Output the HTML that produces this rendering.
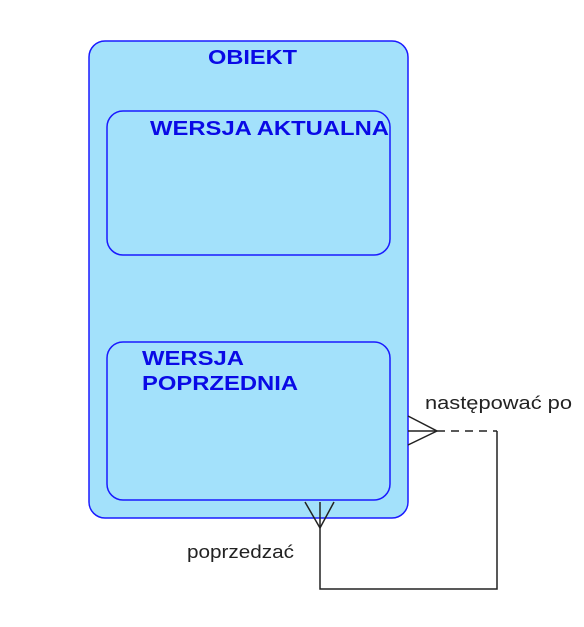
<!DOCTYPE html>
<html><head><meta charset="utf-8"><style>
body{margin:0;background:#fff;width:584px;height:622px;overflow:hidden}
</style></head><body>
<svg width="584" height="622" xmlns="http://www.w3.org/2000/svg" font-family="Liberation Sans, sans-serif">
<rect x="89" y="41" width="319" height="477" rx="16" fill="#a3e1fb" stroke="#1a1aff" stroke-width="1.5"/>
<text x="208" y="64" textLength="89" lengthAdjust="spacingAndGlyphs" font-weight="bold" font-size="20" fill="#0a0ae6">OBIEKT</text>
<rect x="107" y="111" width="283" height="144" rx="16" fill="#a3e1fb" stroke="#1a1aff" stroke-width="1.5"/>
<text x="150" y="135" textLength="239" lengthAdjust="spacingAndGlyphs" font-weight="bold" font-size="20" fill="#0a0ae6">WERSJA AKTUALNA</text>
<rect x="107" y="342" width="283" height="158" rx="16" fill="#a3e1fb" stroke="#1a1aff" stroke-width="1.5"/>
<text x="142" y="365" textLength="102" lengthAdjust="spacingAndGlyphs" font-weight="bold" font-size="20" fill="#0a0ae6">WERSJA</text>
<text x="142" y="390" textLength="156" lengthAdjust="spacingAndGlyphs" font-weight="bold" font-size="20" fill="#0a0ae6">POPRZEDNIA</text>
<g stroke="#222" stroke-width="1.5" fill="none">
<polyline points="408,416 437,431 408,445"/>
<line x1="408" y1="431" x2="437" y2="431"/>
<line x1="437" y1="431" x2="497" y2="431" stroke-dasharray="8,6"/>
<polyline points="497,431 497,589 320,589 320,528"/>
<polyline points="305,502 320,528 334,502"/>
<line x1="320" y1="502" x2="320" y2="528"/>
</g>
<text x="425" y="409" textLength="147" lengthAdjust="spacingAndGlyphs" font-size="18" fill="#222">następować po</text>
<text x="187" y="558" textLength="107" lengthAdjust="spacingAndGlyphs" font-size="18" fill="#222">poprzedzać</text>
</svg>
</body></html>
